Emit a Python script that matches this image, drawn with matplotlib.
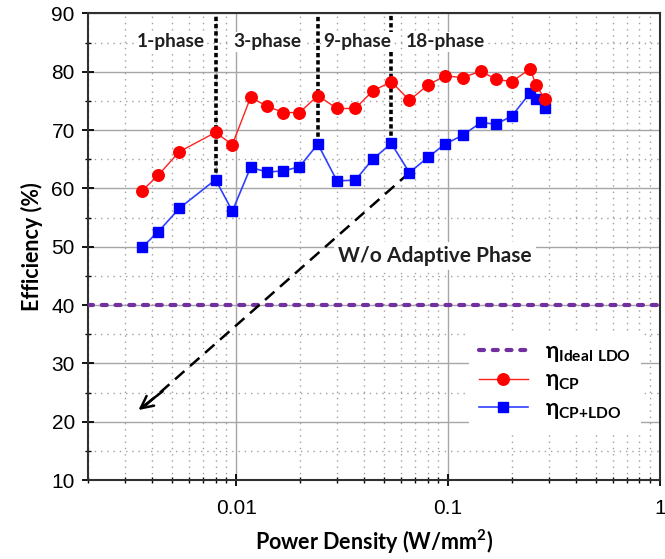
import numpy as np
import matplotlib
matplotlib.use("Agg")
import matplotlib.pyplot as plt
from matplotlib.ticker import FixedLocator, NullFormatter

plt.rcParams['font.family'] = ['Liberation Sans', 'DejaVu Sans']
plt.rcParams['mathtext.fontset'] = 'custom'
plt.rcParams['mathtext.bf'] = 'Lato:bold'
plt.rcParams['mathtext.rm'] = 'Lato'

# power density (W/mm^2) and efficiencies (%)
power = [0.0036, 0.0043, 0.0054, 0.0080, 0.0096, 0.0117, 0.0140, 0.0167,
         0.0199, 0.0243, 0.0299, 0.0365, 0.0441, 0.0540, 0.0657, 0.0802,
         0.0968, 0.117, 0.143, 0.168, 0.200, 0.244, 0.260, 0.287]
eta_cp = [59.6, 62.3, 66.3, 69.6, 67.5, 75.6, 74.1, 73.0, 73.0, 75.9, 73.7, 73.7,
          76.7, 78.3, 75.1, 77.7, 79.3, 79.0, 80.1, 78.7, 78.3, 80.5, 77.7, 75.3]
eta_cp_ldo = [49.9, 52.6, 56.6, 61.5, 56.1, 63.6, 62.8, 63.0, 63.7, 67.6, 61.3, 61.4,
              65.0, 67.7, 62.7, 65.3, 67.6, 69.1, 71.3, 71.0, 72.4, 76.4, 75.3, 73.7]
eta_ideal_ldo = 40.0

phase_names = ['1-phase', '3-phase', '9-phase', '18-phase']
phase_label_x = [0.0034, 0.0097, 0.0258, 0.0634]
phase_switch_idx = [3, 9, 13]   # points where the phase count changes
arrow_idx = 14                  # "W/o adaptive phase" arrow starts here
arrow_end = (0.00346, 22.0)

bold_font = ['Lato', 'DejaVu Sans']

fig = plt.figure(figsize=(6.65, 5.59), dpi=100)
ax = fig.add_axes([0.1323, 0.1413, 0.8602, 0.8347])
ax.set_xscale('log')
ax.set_xlim(0.002, 1)
ax.set_ylim(10, 90)

# grid
ax.xaxis.set_minor_locator(FixedLocator(
    [m * 10.0 ** e for e in (-3, -2, -1) for m in range(2, 10)]))
ax.xaxis.set_minor_formatter(NullFormatter())
ax.set_xticks([0.01, 0.1, 1])
ax.set_xticklabels(['0.01', '0.1', '1'])
ax.set_yticks(np.arange(10, 91, 10))
ax.yaxis.set_minor_locator(FixedLocator(np.arange(15, 90, 10)))
ax.grid(which='major', color='#a6a6a6', lw=1.0, ls='-')
ax.grid(which='minor', color='#a0a0a0', lw=1.0, ls=(0, (1, 3.5)))
ax.set_axisbelow(True)

ax.tick_params(which='major', direction='inout', length=9, width=1.3,
               labelsize=15, pad=5)
ax.tick_params(axis='x', which='major', pad=9)
ax.tick_params(which='minor', direction='inout', length=5, width=1.0)
for s in ax.spines.values():
    s.set_linewidth(1.5)
    s.set_color('#303030')

# ideal LDO line
ideal, = ax.plot([0.002, 1], [eta_ideal_ldo, eta_ideal_ldo], color='#7030a0',
                 lw=3, dashes=(1.2, 2.1), dash_capstyle='round', zorder=3)

# phase boundaries
for i in phase_switch_idx:
    ax.plot([power[i], power[i]], [eta_cp_ldo[i], 90], color='black', lw=2.6,
            ls=(0, (1.2, 0.8)), zorder=2)

blue, = ax.plot(power, eta_cp_ldo, color='#3040ff', lw=1.2, marker='s',
                markersize=7, markerfacecolor='#0000ff', markeredgecolor='#0000ff',
                zorder=4)
red, = ax.plot(power, eta_cp, color='#ff2020', lw=1.0, marker='o',
               markersize=8.3, markerfacecolor='#ff0000', markeredgecolor='#ff0000',
               zorder=5)

# phase labels
for name, x in zip(phase_names, phase_label_x):
    ax.text(x, 85.1, name, family=bold_font, fontweight='bold', fontsize=13.8,
            color='#202020', ha='left', va='center', zorder=6,
            bbox=dict(facecolor='white', edgecolor='none', pad=1.0))

# w/o adaptive phase arrow
x0, y0 = power[arrow_idx], eta_cp_ldo[arrow_idx]
ax.plot([x0, arrow_end[0] * 1.08], [y0, arrow_end[1] + 0.8], color='black',
        lw=1.8, dashes=(5, 3), zorder=3)
ax.annotate('', xy=arrow_end, xytext=(arrow_end[0] * 1.3, arrow_end[1] + 3.2),
            arrowprops=dict(arrowstyle='->', color='black', lw=1.8,
                            mutation_scale=22, shrinkA=0, shrinkB=0), zorder=3)
ax.text(0.0303, 48.4, 'W/o Adaptive Phase', family=bold_font, fontweight='bold',
        fontsize=15, color='#202020', ha='left', va='center', zorder=6,
        bbox=dict(facecolor='white', edgecolor='none', pad=3))

ax.set_xlabel('Power Density (W/mm$^{\\mathbf{2}}$)', family=bold_font,
              fontweight='bold', fontsize=15.5, labelpad=7)
ax.set_ylabel('Efficiency (%)', family=bold_font, fontweight='bold',
              fontsize=15.5, labelpad=6)

leg = ax.legend([ideal, red, blue],
                ['η$_{\\mathbf{Ideal\\ LDO}}$', 'η$_{\\mathbf{CP}}$',
                 'η$_{\\mathbf{CP{+}LDO}}$'],
                loc='upper left', bbox_to_anchor=(0.646, 0.343),
                prop=dict(family=bold_font, weight='bold', size=16),
                frameon=True, fancybox=False, framealpha=1,
                handlelength=2.2, handletextpad=0.8, labelspacing=0.24,
                borderpad=0.45)
leg.get_frame().set_edgecolor('none')
leg.get_frame().set_facecolor('white')
leg.set_zorder(7)

fig.savefig('out.png', dpi=100)
